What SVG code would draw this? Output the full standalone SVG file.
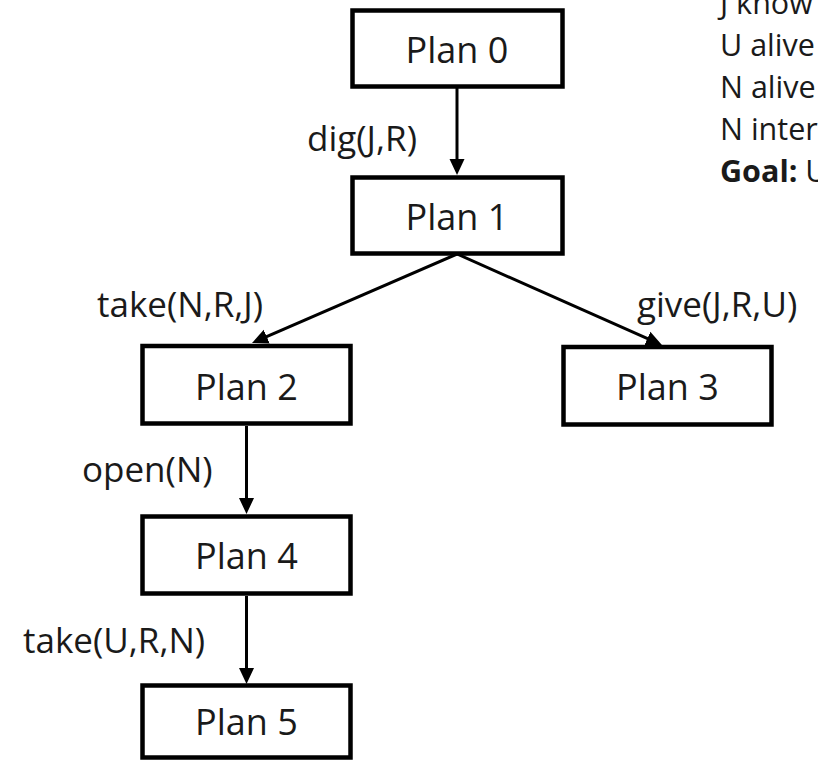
<svg xmlns="http://www.w3.org/2000/svg" width="818" height="761" viewBox="0 0 818 761">
<style>
.box{fill:#fff;stroke:#000;stroke-width:4.5}
.bt{font-family:"Open Sans","Liberation Sans",sans-serif;font-size:36px;fill:#1a1a1a;text-anchor:middle}
.lbl{font-family:"Open Sans","Liberation Sans",sans-serif;font-size:35px;fill:#1a1a1a}
.info{font-family:"Open Sans","Liberation Sans",sans-serif;font-size:30.5px;fill:#1a1a1a}
.edge{fill:none;stroke:#000;stroke-width:3;marker-end:url(#ah)}
</style>
<defs>
<marker id="ah" markerUnits="userSpaceOnUse" markerWidth="17" markerHeight="16" refX="12" refY="7.5" orient="auto" viewBox="0 0 17 15">
<path d="M0,0 L16,7.5 L0,15 Z" fill="#000"/>
</marker>
</defs>
<g id="info">
<text class="info" x="720" y="14">J know</text>
<text class="info" x="720" y="56">U alive</text>
<text class="info" x="720" y="98">N alive</text>
<text class="info" x="720" y="140">N inter</text>
<text class="info" x="720" y="182"><tspan font-weight="bold">Goal:</tspan> U</text>
</g>
<g id="edges">
<path class="edge" d="M457,88 L457,171"/>
<path class="edge" d="M457,254 L255.7,341.4"/>
<path class="edge" d="M457,254 L658.3,343.4"/>
<path class="edge" d="M246.5,426 L246.5,510"/>
<path class="edge" d="M246.5,596 L246.5,680"/>
<text class="lbl" x="417" y="151" text-anchor="end">dig(J,R)</text>
<text class="lbl" x="97" y="317">take(N,R,J)</text>
<text class="lbl" x="637" y="317">give(J,R,U)</text>
<text class="lbl" x="82" y="482">open(N)</text>
<text class="lbl" x="23" y="653">take(U,R,N)</text>
</g>
<g id="plan0"><rect class="box" x="352.5" y="10.5" width="210" height="76"/><text class="bt" x="457" y="63">Plan 0</text></g>
<g id="plan1"><rect class="box" x="352.5" y="177.5" width="210" height="76"/><text class="bt" x="457" y="230">Plan 1</text></g>
<g id="plan2"><rect class="box" x="142.5" y="346" width="208" height="77.5"/><text class="bt" x="246.5" y="400">Plan 2</text></g>
<g id="plan3"><rect class="box" x="563.5" y="347" width="208" height="77.5"/><text class="bt" x="667.5" y="400">Plan 3</text></g>
<g id="plan4"><rect class="box" x="142.5" y="516.5" width="208" height="77"/><text class="bt" x="246.5" y="569">Plan 4</text></g>
<g id="plan5"><rect class="box" x="142.5" y="685.5" width="208" height="72"/><text class="bt" x="246.5" y="735">Plan 5</text></g>
</svg>
